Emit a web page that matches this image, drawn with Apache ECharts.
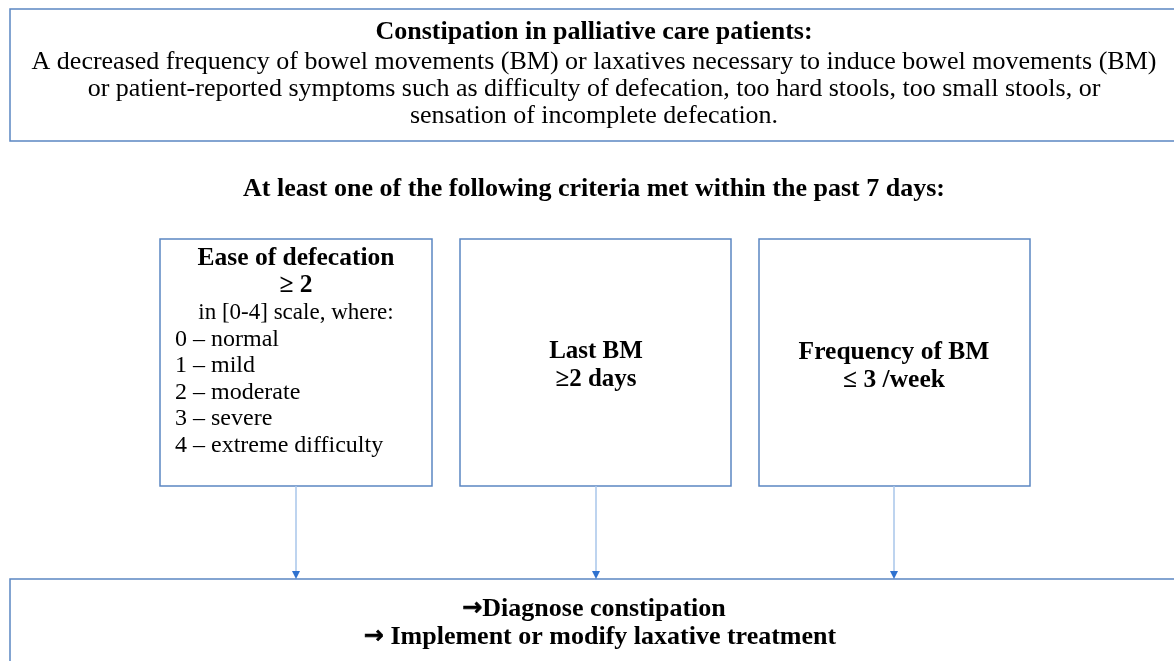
<!DOCTYPE html>
<html>
<head>
<meta charset="utf-8">
<title>Constipation criteria</title>
<script src="https://cdn.jsdelivr.net/npm/echarts@6/dist/echarts.min.js"></script>
<style>
  html, body { margin: 0; padding: 0; background: #fff; }
</style>
</head>
<body>
	<div id="main" style="width: 1174px; height: 661px;"></div>

	<script type="text/javascript">
		// boxes of the flow diagram, in page units (x to the right, y downwards)
		var boxNames  = ['definition', 'ease', 'lastBM', 'frequency', 'action'];
		var boxLeft   = [10, 160, 460, 759, 10];
		var boxTop    = [9, 239, 239, 239, 579];
		var boxRight  = [1190, 432, 731, 1030, 1190];
		var boxBottom = [141, 486, 486, 486, 690];

		// arrows from the three criteria boxes to the action box
		var arrowX = [296, 596, 894];
		var arrowFrom = 486;
		var arrowTo = 579;

		// texts: [text, x, y, bold, align, size]
		var labels = [
			['Constipation in palliative care patients:', 594, 32, true, 'center', 26],
			['A decreased frequency of bowel movements (BM) or laxatives necessary to induce bowel movements (BM)', 594, 62, false, 'center', 26],
			['or patient-reported symptoms such as difficulty of defecation, too hard stools, too small stools, or', 594, 89, false, 'center', 26],
			['sensation of incomplete defecation.', 594, 116, false, 'center', 26],
			['At least one of the following criteria met within the past 7 days:', 594, 189, true, 'center', 26],
			['Ease of defecation', 296, 258, true, 'center', 25.5],
			['\u2265 2', 296, 285, true, 'center', 25.5],
			['in [0-4] scale, where:', 296, 313, false, 'center', 23],
			['0 \u2013 normal', 175, 340, false, 'left', 24],
			['1 \u2013 mild', 175, 366, false, 'left', 24],
			['2 \u2013 moderate', 175, 393, false, 'left', 24],
			['3 \u2013 severe', 175, 419, false, 'left', 24],
			['4 \u2013 extreme difficulty', 175, 446, false, 'left', 24],
			['Last BM', 596, 352, true, 'center', 25],
			['\u22652 days', 596, 380, true, 'center', 25],
			['Frequency of BM', 894, 352, true, 'center', 25.5],
			['\u2264 3 /week', 894, 380, true, 'center', 25.5],
			['{a|\u2192}Diagnose constipation', 594, 609, true, 'center', 26],
			['{a|\u2192} Implement or modify laxative treatment', 600, 637, true, 'center', 26]
		];

		var myChart = echarts.init(document.getElementById('main'));

		var boxData = boxNames.map(function (n, i) {
			return [boxLeft[i], boxTop[i], boxRight[i], boxBottom[i]];
		});
		var arrowData = arrowX.map(function (x) {
			return [x, arrowFrom, arrowTo];
		});
		var serif = '"Liberation Serif", "DejaVu Serif", serif';

		option = {
			animation: false,
			grid: { left: 0, right: 0, top: 0, bottom: 0 },
			xAxis: { type: 'value', min: 0, max: 1174, show: false },
			yAxis: { type: 'value', min: 0, max: 661, inverse: true, show: false },
			series: [
				{
					type: 'custom',
					clip: false,
					data: boxData,
					renderItem: function (params, api) {
						var p0 = api.coord([api.value(0), api.value(1)]);
						var p1 = api.coord([api.value(2), api.value(3)]);
						return {
							type: 'rect',
							shape: { x: p0[0], y: p0[1], width: p1[0] - p0[0], height: p1[1] - p0[1] },
							style: { fill: '#fff', stroke: '#5b86c2', lineWidth: 1.5 }
						};
					}
				},
				{
					type: 'custom',
					clip: false,
					data: arrowData,
					renderItem: function (params, api) {
						var a = api.coord([api.value(0), api.value(1)]);
						var b = api.coord([api.value(0), api.value(2)]);
						return {
							type: 'group',
							children: [
								{
									type: 'line',
									shape: { x1: a[0], y1: a[1], x2: b[0], y2: b[1] - 6 },
									style: { stroke: '#a9c6ea', lineWidth: 1.5 }
								},
								{
									type: 'polygon',
									shape: { points: [[b[0] - 4, b[1] - 8], [b[0] + 4, b[1] - 8], [b[0], b[1]]] },
									style: { fill: '#2f72cf' }
								}
							]
						};
					},
					z: 3
				},
				{
					type: 'custom',
					clip: false,
					data: labels.map(function (l, i) { return [l[1], l[2], i]; }),
					renderItem: function (params, api) {
						var l = labels[api.value(2)];
						var p = api.coord([l[1], l[2]]);
						return {
							type: 'text',
							x: p[0],
							y: p[1],
							style: {
								text: l[0],
								fill: '#000',
								align: l[4],
								verticalAlign: 'middle',
								font: (l[3] ? 'bold ' : '') + l[5] + 'px ' + serif,
								rich: {
									a: {
										fontFamily: '"DejaVu Sans", sans-serif',
										fontWeight: 'bold',
										fontSize: 24,
										fill: '#000',
										stroke: '#000',
										lineWidth: 0.6,
										verticalAlign: 'middle'
									}
								}
							}
						};
					},
					z: 4
				}
			]
		};

		myChart.setOption(option);
	</script>
</body>
</html>
